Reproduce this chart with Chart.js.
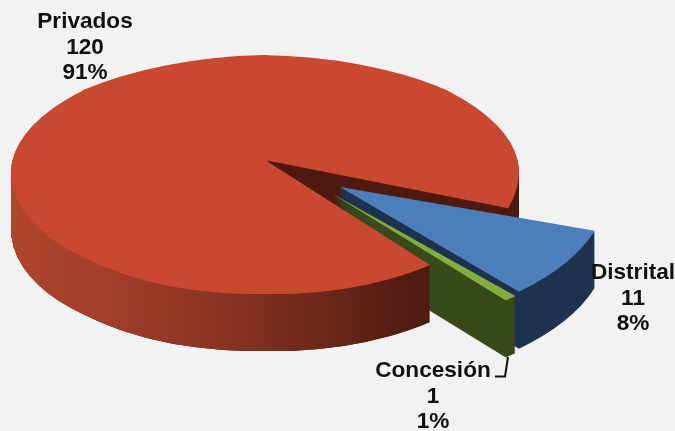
<!DOCTYPE html>
<html>
<head>
<meta charset="utf-8">
<style>
  html, body { margin: 0; padding: 0; background: #f2f2f2; }
  canvas { display: block; }
</style>
<script src="https://cdn.jsdelivr.net/npm/chart.js@4/dist/chart.umd.min.js"></script>
</head>
<body>
<canvas id="myChart" width="675" height="431"></canvas>
<script>
const categories = ["Privados", "Distrital", "Concesión"];
const values = [120, 11, 1];
const topColors = ["#c8492f", "#4b7ebb", "#83ae3e"];
const wallColors = ["#4f1a10", "#1e334f", "#3a4a1b"];

// tilted pie geometry, in screen pixels
const RIM_CX = 265, RIM_CY = 172, RX = 254, RY_TOP = 117, RY_BOTTOM = 122;
const DEPTH = 57;
const apexes = [[265, 160], [340, 187], [331, 193]];
const grow = [1, 1.055, 1.06];
const turn = [0, 0.023, 0];
const FLAT = 0.525;
const labelSpots = [[85, 28], [633, 279], [433, 377]];

const total = values.reduce((a, b) => a + b, 0);

function withOptions(arc, fill, fn) {
  const saved = arc.options;
  arc.options = { ...saved, backgroundColor: fill, borderWidth: 0 };
  fn();
  arc.options = saved;
}

function rimPoint(a) {
  const s = Math.sin(a);
  return [RIM_CX + RX * Math.cos(a), RIM_CY + (s < 0 ? RY_TOP : RY_BOTTOM) * s];
}

// the big slice: each 45 degree sector gets its own affine map, so the tip
// can sit above the middle of the ellipse like it does in a perspective view
function paintBig(ctx, arc, dy, fill) {
  const [ax, ay] = apexes[0];
  const k = RX / arc.outerRadius;
  const step = Math.PI / 4;
  const pad = 0.01;
  withOptions(arc, fill, () => {
    for (let n = 0; n < 8; n++) {
      const a1 = n * step, a2 = a1 + step;
      const y1 = rimPoint(a1)[1] - ay, y2 = rimPoint(a2)[1] - ay;
      const c1 = Math.cos(a1), s1 = Math.sin(a1), c2 = Math.cos(a2), s2 = Math.sin(a2);
      const det = c1 * s2 - c2 * s1;
      const b = ((y1 * s2 - y2 * s1) / det) / arc.outerRadius;
      const d = ((c1 * y2 - c2 * y1) / det) / arc.outerRadius;
      const p1 = rimPoint(a1 - pad), p2 = rimPoint(a2 + pad);
      // start the clip a little behind the tip so neighbours overlap there too
      const mid = a1 + step / 2;
      ctx.save();
      ctx.beginPath();
      ctx.moveTo(ax - Math.cos(mid) * 3, ay + dy - Math.sin(mid) * 3);
      ctx.lineTo(ax + (p1[0] - ax) * 1.6, ay + dy + (p1[1] - ay) * 1.6);
      ctx.lineTo(ax + (p2[0] - ax) * 1.6, ay + dy + (p2[1] - ay) * 1.6);
      ctx.closePath();
      ctx.clip();
      ctx.transform(k, b, 0, d, ax, ay + dy);
      ctx.translate(-arc.x, -arc.y);
      arc.draw(ctx);
      ctx.restore();
    }
  });
}

function paintSmall(ctx, arc, i, dy, fill) {
  const k = (RX * grow[i]) / arc.outerRadius;
  withOptions(arc, fill, () => {
    ctx.save();
    ctx.translate(apexes[i][0], apexes[i][1] + dy);
    ctx.scale(k, k * FLAT);
    ctx.rotate(turn[i]);
    ctx.translate(-arc.x, -arc.y);
    arc.draw(ctx);
    ctx.restore();
  });
}

const tiltedPie = {
  id: "tiltedPie",
  beforeDatasetsDraw(chart) {
    const ctx = chart.ctx;
    const arcs = chart.getDatasetMeta(0).data;
    const red = arcs[0];
    let d;

    for (d = DEPTH; d >= 1; d--) paintBig(ctx, red, d, wallColors[0]);
    for (d = DEPTH; d >= 1; d--) paintSmall(ctx, arcs[1], 1, d, wallColors[1]);
    paintSmall(ctx, arcs[1], 1, 0, topColors[1]);
    for (d = DEPTH; d >= 1; d--) paintSmall(ctx, arcs[2], 2, d, wallColors[2]);
    paintSmall(ctx, arcs[2], 2, 0, topColors[2]);

    // outer face of the big slice, lit from the left
    const r = red.outerRadius;
    const grad = ctx.createLinearGradient(red.x - r, 0, red.x + r * 0.65, 0);
    grad.addColorStop(0, "#b0452c");
    grad.addColorStop(0.2, "#a33f29");
    grad.addColorStop(0.5, "#8a3323");
    grad.addColorStop(0.7, "#712a1c");
    grad.addColorStop(0.88, "#5a1f14");
    grad.addColorStop(1, "#4f1a10");
    ctx.save();
    ctx.beginPath();
    ctx.rect(0, 0, RIM_CX, 431);
    ctx.rect(RIM_CX, 258, 168, 173);
    ctx.clip();
    for (d = DEPTH; d >= 1; d--) paintBig(ctx, red, d, grad);
    ctx.restore();

    paintBig(ctx, red, 0, topColors[0]);
    return false;
  },
  afterDraw(chart) {
    const ctx = chart.ctx;
    ctx.save();
    ctx.fillStyle = "#111";
    ctx.font = "bold 22.6px 'Liberation Sans', Arial, sans-serif";
    ctx.textAlign = "center";
    ctx.textBaseline = "alphabetic";
    categories.forEach((name, i) => {
      const [x, y] = labelSpots[i];
      ctx.fillText(name, x, y);
      ctx.fillText(String(values[i]), x, y + 26);
      ctx.fillText(Math.round((values[i] / total) * 100) + "%", x, y + 51);
    });
    // leader line for Concesión
    ctx.strokeStyle = "#111";
    ctx.lineWidth = 2;
    ctx.beginPath();
    ctx.moveTo(495, 376.5);
    ctx.lineTo(505, 376.5);
    ctx.lineTo(508, 357);
    ctx.stroke();
    ctx.restore();
  },
};

const ctx = document.getElementById("myChart");
new Chart(ctx, {
  type: "pie",
  data: {
    labels: categories,
    datasets: [{ data: values, backgroundColor: topColors, borderWidth: 0 }],
  },
  options: {
    responsive: false,
    animation: false,
    rotation: 139.5,
    plugins: { legend: { display: false }, tooltip: { enabled: false } },
  },
  plugins: [tiltedPie],
});
</script>
</body>
</html>
